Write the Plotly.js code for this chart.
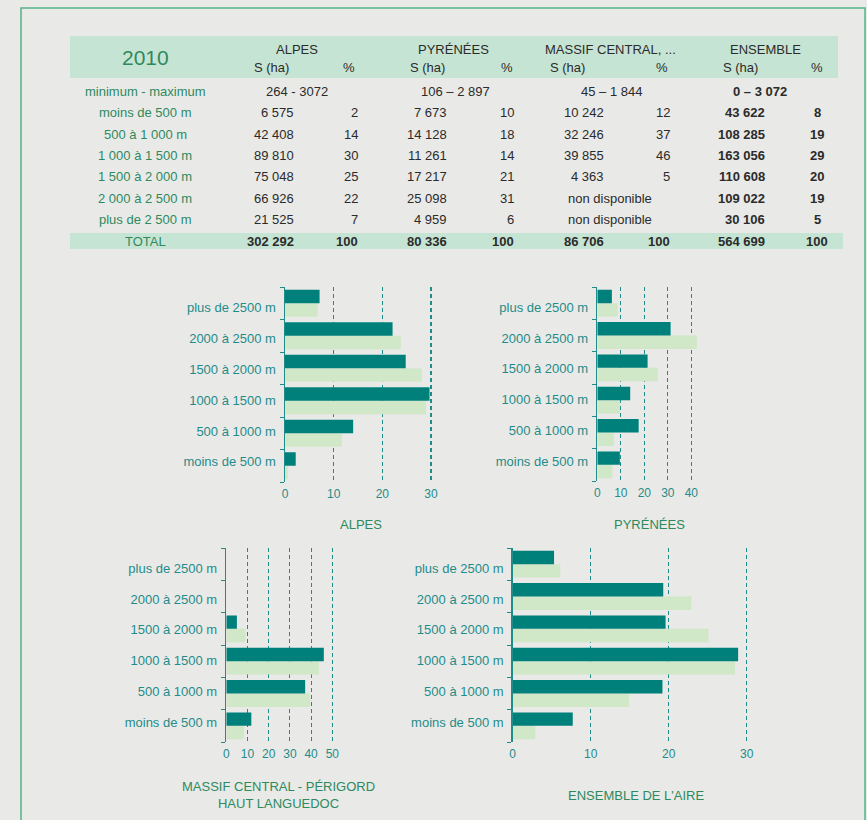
<!DOCTYPE html>
<html><head><meta charset="utf-8">
<script src="https://cdn.plot.ly/plotly-3.0.1.min.js"></script>
<style>html,body{margin:0;padding:0;background:#e9e9e7}</style>
</head><body>
<div id="chart" style="width:867px;height:820px"></div>
<script>
// ---------- DATA ----------
const year = "2010";
const regions = ["ALPES", "PYRÉNÉES", "MASSIF CENTRAL, ...", "ENSEMBLE"];
const rowLabels = ["minimum - maximum", "moins de 500 m", "500 à 1 000 m", "1 000 à 1 500 m",
                   "1 500 à 2 000 m", "2 000 à 2 500 m", "plus de 2 500 m"];
const totalLabel = "TOTAL";
const minMax = ["264 - 3072", "106 – 2 897", "45 – 1 844", "0 – 3 072"];
const alpesHa = [6575, 42408, 89810, 75048, 66926, 21525];
const alpesPct = [2, 14, 30, 25, 22, 7];
const pyrHa = [7673, 14128, 11261, 17217, 25098, 4959];
const pyrPct = [10, 18, 14, 21, 31, 6];
const mcHa = [10242, 32246, 39855, 4363, null, null];
const mcPct = [12, 37, 46, 5, null, null];
const ensHa = [43622, 108285, 163056, 110608, 109022, 30106];
const ensPct = [8, 19, 29, 20, 19, 5];
const totalsHa = [302292, 80336, 86706, 564699];
const totalsPct = [100, 100, 100, 100];
const notAvailable = "non disponible";

const chartCats = ["moins de 500 m", "500 à 1000 m", "1000 à 1500 m", "1500 à 2000 m", "2000 à 2500 m", "plus de 2500 m"];
const alpesDark = [2.2, 14.0, 29.7, 24.8, 22.1, 7.1];
const alpesLight = [0.6, 11.7, 29.0, 28.1, 23.8, 6.7];
const pyrDark = [9.6, 17.6, 14.0, 21.4, 31.2, 6.2];
const pyrLight = [6.4, 7.1, 9.7, 25.8, 42.4, 8.7];
const mcDark = [11.8, 37.2, 46.0, 5.0, null, null];
const mcLight = [8.3, 39.6, 43.7, 9.0, null, null];
const ensDark = [7.7, 19.2, 28.9, 19.6, 19.3, 5.3];
const ensLight = [2.9, 14.9, 28.5, 25.1, 22.9, 6.1];
const chartTitles = ["ALPES", "PYRÉNÉES", "MASSIF CENTRAL - PÉRIGORD<br>HAUT LANGUEDOC", "ENSEMBLE DE L'AIRE"];

// ---------- STYLE / LAYOUT ----------
const W = 867, H = 820;
const px = x => x / W;
const py = y => 1 - y / H;
const FONT = "Liberation Sans, Arial, sans-serif";
const GREEN = "#2e8a5e";
const TEAL = "#1f8c8a";
const DARK = "#00807b";
const LIGHT = "#d0e8c8";
const TXT = "#2b2b2b";
const BAND = "#c6e4d3";
const fmt = n => String(n).replace(/\B(?=(\d{3})+(?!\d))/g, " ");

const annotations = [];
function ann(text, x, y, opts) {
  annotations.push(Object.assign({
    text: text, x: px(x), y: py(y), xref: "paper", yref: "paper",
    xanchor: "center", yanchor: "middle", showarrow: false,
    font: {family: FONT, size: 13, color: TXT}
  }, opts || {}));
}

// header
ann(year, 145, 57, {font: {family: FONT, size: 21, color: GREEN}});
const regionX = [297, 453, 610, 765];
const subSX = [271, 427, 567, 740];
const subPX = [349, 507, 662, 817];
regions.forEach((r, i) => {
  ann(r, regionX[i], 49);
  ann("S (ha)", subSX[i], 68);
  ann("%", subPX[i], 68);
});

// body
const rowY = [92, 112, 134, 156, 177, 198, 219];
const totalY = 241;
rowLabels.forEach((l, i) => ann(l, 145, rowY[i], {font: {family: FONT, size: 13, color: GREEN}}));
const mmX = [297, 455, 611, 760];
minMax.forEach((m, i) => ann(i === 3 ? "<b>" + m + "</b>" : m, mmX[i], rowY[0]));

const haRight = [296, 449, 606, 767];
const pctRight = [360, 516, 672];
const pctCenterEns = 817;
const haCols = [alpesHa, pyrHa, mcHa, ensHa];
const pctCols = [alpesPct, pyrPct, mcPct, ensPct];
for (let r = 0; r < 6; r++) {
  const y = rowY[r + 1];
  for (let c = 0; c < 4; c++) {
    const v = haCols[c][r], p = pctCols[c][r];
    if (v === null) {
      ann(notAvailable, 610, y);
      continue;
    }
    if (c === 3) {
      ann("<b>" + fmt(v) + "</b>", haRight[c], y, {xanchor: "right"});
      ann("<b>" + p + "</b>", pctCenterEns, y);
    } else {
      ann(fmt(v), haRight[c], y, {xanchor: "right"});
      ann(String(p), pctRight[c], y, {xanchor: "right"});
    }
  }
}
ann(totalLabel, 145, totalY, {font: {family: FONT, size: 13, color: GREEN}});
for (let c = 0; c < 4; c++) {
  ann("<b>" + fmt(totalsHa[c]) + "</b>", haRight[c], totalY, {xanchor: "right"});
  if (c === 3) ann("<b>" + totalsPct[c] + "</b>", pctCenterEns, totalY);
  else ann("<b>" + totalsPct[c] + "</b>", pctRight[c], totalY, {xanchor: "right"});
}

// chart titles
const titlePos = [[361, 524], [649, 524], [278, 795], [636, 795]];
chartTitles.forEach((t, i) => ann(t, titlePos[i][0], titlePos[i][1], {font: {family: FONT, size: 13, color: GREEN}}));

const shapes = [
  {type: "rect", xref: "paper", yref: "paper", x0: px(70), x1: px(838), y0: py(36), y1: py(78), fillcolor: BAND, line: {width: 0}, layer: "below"},
  {type: "rect", xref: "paper", yref: "paper", x0: px(70), x1: px(843), y0: py(233), y1: py(249), fillcolor: BAND, line: {width: 0}, layer: "below"},
  {type: "rect", xref: "paper", yref: "paper", x0: px(21), x1: px(865), y0: py(8), y1: py(840), line: {color: "#55b187", width: 1.5}, layer: "below"}
];

// label positions along the category axis (labels sit slightly tighter than the bars)
const labelPos = [0.12, 1.07, 2.02, 2.97, 3.92, 4.87];
const catIdx = chartCats.map((c, i) => i);

const charts = [
  {x0: 285, unit: 4.867, max: 31, top: 287, bot: 482, ticks: [0, 10, 20, 30], dark: alpesDark, light: alpesLight},
  {x0: 597.3, unit: 2.35, max: 45, top: 287, bot: 481, ticks: [0, 10, 20, 30, 40], dark: pyrDark, light: pyrLight},
  {x0: 226.3, unit: 2.12, max: 52, top: 548, bot: 742, ticks: [0, 10, 20, 30, 40, 50], dark: mcDark, light: mcLight},
  {x0: 512.7, unit: 7.8, max: 31, top: 548, bot: 742, ticks: [0, 10, 20, 30], dark: ensDark, light: ensLight}
];

const data = [];
const layout = {
  width: W, height: H, margin: {l: 0, r: 0, t: 0, b: 0},
  paper_bgcolor: "#e9e9e7", plot_bgcolor: "rgba(0,0,0,0)",
  barmode: "group", bargap: 0.17, bargroupgap: 0,
  showlegend: false, annotations: annotations, shapes: shapes,
  font: {family: FONT}
};
charts.forEach((ch, i) => {
  const sfx = i === 0 ? "" : String(i + 1);
  const xa = "x" + sfx, ya = "y" + sfx;
  data.push({type: "bar", orientation: "h", x: ch.light, y: catIdx, xaxis: xa, yaxis: ya,
             marker: {color: LIGHT}, hoverinfo: "none"});
  data.push({type: "bar", orientation: "h", x: ch.dark, y: catIdx, xaxis: xa, yaxis: ya,
             marker: {color: DARK}, hoverinfo: "none"});
  const x1 = ch.x0 + ch.unit * ch.max;
  layout["xaxis" + sfx] = {
    domain: [px(ch.x0), px(x1)], anchor: ya, range: [0, ch.max],
    tickvals: ch.ticks, ticks: "", showline: false, zeroline: false,
    showgrid: true, gridcolor: TEAL, gridwidth: 1.2, griddash: "4px,3px",
    ticklabelstandoff: 3,
    tickfont: {family: FONT, size: 12, color: TEAL}, fixedrange: true
  };
  layout["yaxis" + sfx] = {
    domain: [py(ch.bot), py(ch.top)], anchor: xa, type: "linear", range: [-0.5, 5.5],
    tickmode: "array", tickvals: labelPos, ticktext: chartCats, ticks: "",
    minor: {tickmode: "array", tickvals: [-0.5, 0.5, 1.5, 2.5, 3.5, 4.5, 5.5], ticks: "outside", ticklen: 4, tickcolor: TEAL, showgrid: false},
    showline: true, linecolor: TEAL, linewidth: 1.5, showgrid: false, zeroline: false,
    ticklabelstandoff: 5,
    tickfont: {family: FONT, size: 13, color: TEAL}, fixedrange: true
  };
});

Plotly.newPlot("chart", data, layout, {displayModeBar: false, staticPlot: true});
</script>
</body></html>
